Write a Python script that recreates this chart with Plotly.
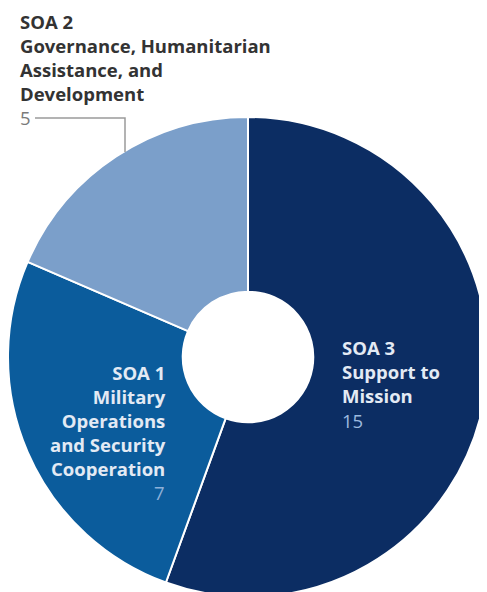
import plotly.graph_objects as go

# Data
categories = ["SOA 3", "SOA 1", "SOA 2"]
titles = ["Support to<br>Mission",
          "Military<br>Operations<br>and Security<br>Cooperation",
          "Governance, Humanitarian<br>Assistance, and<br>Development"]
values = [15, 7, 5]
colors = ["#0c2d63", "#0b5c9c", "#7b9fca"]

W, H = 487, 592
OFF = 8  # page body margin offset (window px -> figure px)
FONT = "Open Sans"
FS = 18.5


def px(x):
    """window x pixel -> paper coordinate"""
    return (x - OFF) / W


def py(y):
    """window y pixel -> paper coordinate"""
    return 1 - (y - OFF) / H


fig = go.Figure()
fig.add_trace(go.Pie(
    labels=categories,
    values=values,
    sort=False,
    direction="clockwise",
    rotation=0,
    hole=0.272,
    marker=dict(colors=colors, line=dict(color="white", width=2)),
    textinfo="none",
    hoverinfo="label+value",
    showlegend=False,
    domain=dict(x=[px(8), px(488)], y=[py(597), py(117)]),
))


def ann(x, y, text, xanchor, yanchor, color, bold=True):
    return dict(
        x=px(x), y=py(y), xref="paper", yref="paper",
        xanchor=xanchor, yanchor=yanchor, align=xanchor if xanchor != "center" else "center",
        showarrow=False, borderpad=0,
        text=f"<b>{text}</b>" if bold else text,
        font=dict(family=FONT, size=FS, color=color),
    )


annotations = [
    # SOA 3 (inside, right)
    ann(341, 371.5, f"{categories[0]}<br>{titles[0]}", "left", "middle", "#e3eaf4"),
    ann(341, 420, str(values[0]), "left", "middle", "#9db9df", bold=False),
    # SOA 1 (inside, left)
    ann(167, 420, f"{categories[1]}<br>{titles[1]}", "right", "middle", "#e3eaf4"),
    ann(166, 492, str(values[1]), "right", "middle", "#8db0d9", bold=False),
    # SOA 2 (outside, top-left)
    ann(19, 57.5, f"{categories[2]}<br>{titles[2]}", "left", "middle", "#333333"),
    ann(19, 118, str(values[2]), "left", "middle", "#7a7a7a", bold=False),
]

fig.update_layout(
    width=W, height=H,
    margin=dict(l=0, r=0, t=0, b=0),
    paper_bgcolor="white",
    plot_bgcolor="white",
    annotations=annotations,
    shapes=[dict(type="path", xref="paper", yref="paper",
                 path=f"M {px(35)} {py(118)} L {px(125)} {py(118)} L {px(125)} {py(152)}",
                 line=dict(color="#9a9a9a", width=1.5))],
)

fig.write_html("out.html")
